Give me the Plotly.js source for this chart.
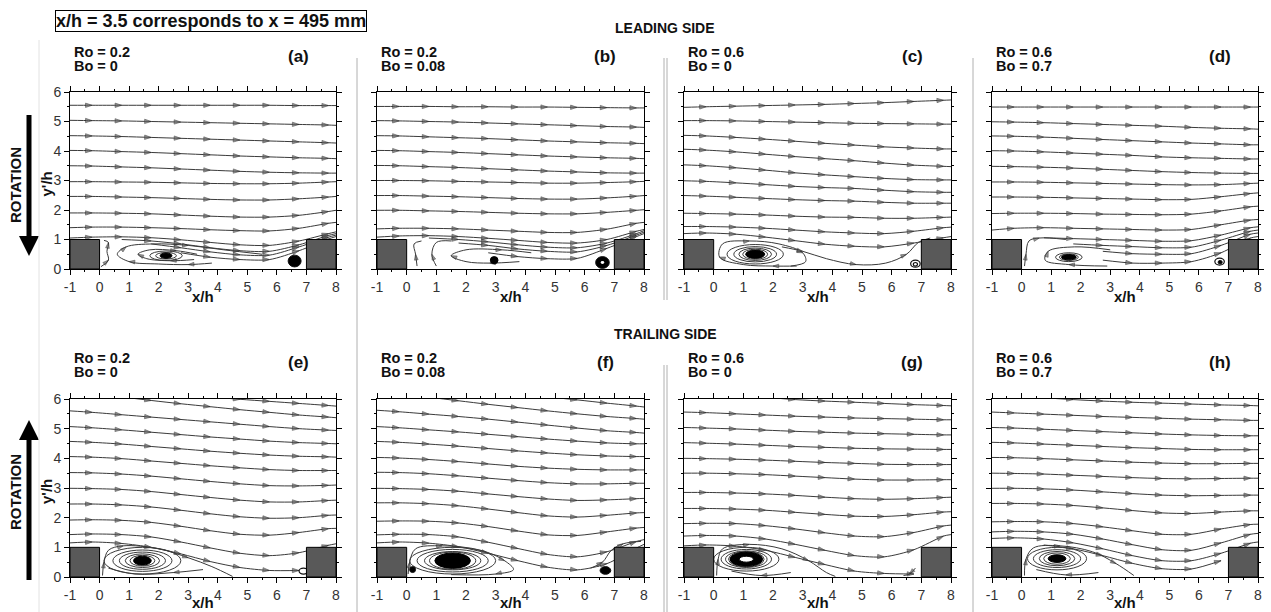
<!DOCTYPE html>
<html><head><meta charset="utf-8">
<script src="https://cdn.plot.ly/plotly-3.0.1.min.js"></script>
<style>html,body{margin:0;padding:0;background:#fff}#chart{width:1271px;height:612px}</style>
</head><body><div id="chart"></div>
<script>
// ---------------- DATA ----------------
const XS = [-1,-0.25,0.75,1.75,2.75,3.75,4.75,5.75,6.75,7.75,8];
const X_TICKS = [-1,0,1,2,3,4,5,6,7,8];
const Y_TICKS = [0,1,2,3,4,5,6];
const PANEL_TAGS = ['(a)','(b)','(c)','(d)','(e)','(f)','(g)','(h)'];
const RO = ['0.2','0.2','0.6','0.6','0.2','0.2','0.6','0.6'];
const BO = ['0','0.08','0','0.7','0','0.08','0','0.7'];
const RIB_X = [[-1,0],[7,8]];
const RIB_H = 1;

// streamline y'/h values at XS, per panel
const LINES_A = [
 [5.55,5.55,5.55,5.55,5.55,5.55,5.55,5.55,5.54,5.54,5.54],
 [5.04,5.03,5.02,5.00,4.98,4.96,4.94,4.92,4.90,4.88,4.87],
 [4.52,4.51,4.49,4.46,4.43,4.40,4.37,4.34,4.31,4.28,4.27],
 [4.02,4.01,3.98,3.95,3.91,3.87,3.83,3.80,3.77,3.75,3.74],
 [3.50,3.49,3.46,3.43,3.39,3.35,3.31,3.28,3.26,3.25,3.25],
 [2.96,2.96,2.95,2.94,2.92,2.90,2.89,2.89,2.91,2.95,2.96],
 [2.46,2.46,2.44,2.42,2.39,2.36,2.34,2.34,2.38,2.44,2.46],
 [1.90,1.90,1.89,1.87,1.83,1.79,1.76,1.76,1.82,1.95,1.99],
 [1.40,1.42,1.42,1.40,1.37,1.33,1.30,1.29,1.38,1.55,1.58],
 [1.05,1.08,1.09,1.06,0.99,0.90,0.82,0.80,0.95,1.20,1.26],
 [null,null,1.00,0.95,0.85,0.72,0.62,0.60,0.82,1.14,1.20],
 [null,null,null,0.85,0.72,0.58,0.48,0.47,0.75,1.08,1.15],
 [null,null,null,null,0.55,0.40,0.32,0.32,0.62,1.02,1.10]
];
const LINES_B = [
 [5.51,5.51,5.51,5.50,5.50,5.49,5.49,5.48,5.47,5.46,5.46],
 [5.03,5.02,5.00,4.98,4.95,4.92,4.89,4.86,4.83,4.81,4.80],
 [4.52,4.51,4.48,4.45,4.42,4.38,4.34,4.31,4.28,4.26,4.25],
 [4.02,4.01,3.98,3.95,3.91,3.87,3.83,3.80,3.77,3.75,3.74],
 [3.51,3.50,3.47,3.44,3.40,3.36,3.32,3.29,3.26,3.25,3.25],
 [3.00,3.00,2.99,2.97,2.95,2.93,2.91,2.91,2.93,2.96,2.97],
 [2.49,2.49,2.47,2.45,2.42,2.39,2.37,2.37,2.41,2.47,2.49],
 [1.99,1.99,1.97,1.95,1.92,1.89,1.87,1.87,1.92,1.99,2.01],
 [1.36,1.38,1.38,1.36,1.32,1.28,1.24,1.24,1.35,1.55,1.58],
 [1.08,1.12,1.13,1.10,1.04,0.97,0.90,0.88,1.00,1.28,1.34],
 [null,null,1.05,1.00,0.92,0.82,0.74,0.72,0.88,1.20,1.30],
 [null,null,null,0.88,0.80,0.68,0.60,0.58,0.80,1.15,1.25],
 [null,null,null,null,0.55,0.42,0.35,0.36,0.70,1.10,1.20]
];
const LINES_C = [
 [5.48,5.50,5.52,5.54,5.56,5.58,5.61,5.64,5.68,5.72,5.73],
 [5.03,5.03,5.02,5.00,4.98,4.96,4.94,4.93,4.92,4.91,4.91],
 [4.53,4.51,4.46,4.40,4.33,4.26,4.20,4.14,4.10,4.07,4.07],
 [4.06,4.03,3.97,3.89,3.81,3.74,3.67,3.59,3.52,3.48,3.47],
 [3.53,3.50,3.43,3.35,3.26,3.19,3.13,3.07,3.03,3.02,3.02],
 [2.99,2.97,2.92,2.86,2.80,2.76,2.73,2.67,2.62,2.60,2.60],
 [2.49,2.47,2.43,2.39,2.35,2.32,2.30,2.26,2.23,2.23,2.23],
 [1.89,1.88,1.86,1.83,1.79,1.76,1.75,1.72,1.72,1.75,1.76],
 [1.44,1.44,1.42,1.38,1.32,1.26,1.22,1.20,1.28,1.40,1.42],
 [1.20,1.22,1.18,1.08,0.96,0.84,0.77,0.75,0.88,1.06,1.10]
];
const LINES_D = [
 [5.49,5.49,5.49,5.49,5.49,5.49,5.49,5.49,5.49,5.49,5.49],
 [4.99,4.98,4.96,4.93,4.90,4.87,4.84,4.80,4.77,4.75,4.74],
 [4.51,4.50,4.47,4.43,4.39,4.35,4.31,4.27,4.24,4.21,4.21],
 [4.01,4.00,3.97,3.93,3.89,3.85,3.80,3.77,3.75,3.73,3.73],
 [3.48,3.47,3.45,3.42,3.38,3.34,3.30,3.27,3.25,3.24,3.24],
 [2.95,2.95,2.94,2.92,2.90,2.88,2.86,2.85,2.86,2.90,2.91],
 [2.44,2.44,2.43,2.41,2.39,2.37,2.35,2.36,2.45,2.56,2.58],
 [1.88,1.89,1.89,1.88,1.86,1.85,1.84,1.86,1.97,2.11,2.13],
 [1.32,1.38,1.40,1.38,1.36,1.34,1.32,1.34,1.50,1.66,1.68],
 [null,null,1.06,1.03,1.00,0.97,0.94,0.96,1.15,1.40,1.43],
 [null,null,null,0.85,0.80,0.76,0.72,0.74,0.98,1.28,1.32],
 [null,null,null,null,0.60,0.52,0.50,0.52,0.80,1.18,1.22],
 [null,null,null,null,0.30,0.20,0.20,0.25,0.55,1.05,1.10]
];
const LINES_E = [
 [6.60,6.50,6.38,6.26,6.16,6.07,5.99,5.92,5.85,5.78,5.76],
 [6.30,6.20,6.07,5.95,5.84,5.74,5.64,5.55,5.46,5.39,5.37],
 [5.60,5.55,5.47,5.39,5.31,5.23,5.15,5.07,5.00,4.95,4.94],
 [5.07,5.03,4.96,4.88,4.80,4.72,4.65,4.58,4.53,4.50,4.49],
 [4.57,4.54,4.48,4.40,4.32,4.24,4.17,4.11,4.07,4.05,4.04],
 [4.06,4.04,3.99,3.91,3.83,3.75,3.68,3.62,3.59,3.59,3.59],
 [3.52,3.51,3.47,3.40,3.31,3.22,3.14,3.08,3.07,3.09,3.10],
 [2.99,2.98,2.95,2.88,2.78,2.68,2.59,2.53,2.53,2.58,2.59],
 [2.46,2.46,2.43,2.36,2.25,2.13,2.03,1.98,2.00,2.08,2.09],
 [1.92,1.93,1.91,1.84,1.71,1.56,1.44,1.41,1.50,1.63,1.64],
 [1.43,1.45,1.43,1.35,1.18,0.98,0.80,0.72,0.82,1.07,1.12],
 [1.15,1.18,1.13,1.00,0.78,0.52,0.32,0.22,0.22,null,null]
];
const LINES_F = [
 [6.90,6.75,6.60,6.45,6.30,6.18,6.07,5.97,5.86,5.76,5.73],
 [6.25,6.18,6.06,5.94,5.82,5.71,5.60,5.50,5.41,5.34,5.32],
 [5.62,5.57,5.49,5.41,5.32,5.22,5.12,5.02,4.93,4.87,4.85],
 [5.07,5.03,4.96,4.89,4.81,4.73,4.65,4.58,4.52,4.49,4.49],
 [4.57,4.54,4.48,4.41,4.33,4.25,4.18,4.12,4.08,4.06,4.06],
 [4.03,4.01,3.96,3.89,3.81,3.73,3.67,3.63,3.61,3.61,3.61],
 [3.53,3.52,3.48,3.41,3.33,3.25,3.18,3.14,3.14,3.16,3.16],
 [2.99,2.98,2.95,2.89,2.80,2.71,2.63,2.58,2.60,2.64,2.65],
 [2.50,2.50,2.47,2.40,2.29,2.17,2.06,2.02,2.08,2.16,2.17],
 [1.88,1.89,1.88,1.82,1.70,1.55,1.42,1.40,1.52,1.65,1.67],
 [1.42,1.44,1.43,1.35,1.17,0.96,0.76,0.68,0.85,1.20,1.26],
 [1.15,1.18,1.14,1.02,0.80,0.55,0.33,0.24,0.45,0.98,1.10]
];
const LINES_G = [
 [6.35,6.28,6.17,6.06,5.98,5.93,5.89,5.85,5.81,5.78,5.77],
 [5.56,5.54,5.50,5.46,5.42,5.39,5.36,5.34,5.32,5.30,5.30],
 [5.04,5.02,4.99,4.95,4.91,4.88,4.85,4.83,4.81,4.79,4.79],
 [4.53,4.51,4.48,4.44,4.40,4.37,4.34,4.32,4.31,4.30,4.30],
 [4.00,3.99,3.97,3.94,3.90,3.86,3.83,3.80,3.79,3.79,3.79],
 [3.50,3.50,3.48,3.45,3.40,3.35,3.30,3.27,3.27,3.28,3.28],
 [2.85,2.85,2.83,2.80,2.75,2.69,2.64,2.62,2.64,2.68,2.69],
 [2.31,2.31,2.29,2.25,2.18,2.11,2.05,2.04,2.10,2.19,2.20],
 [1.80,1.81,1.80,1.73,1.62,1.49,1.38,1.36,1.50,1.72,1.75],
 [1.38,1.40,1.38,1.28,1.10,0.90,0.72,0.68,0.92,1.38,1.43],
 [1.05,1.08,1.04,0.90,0.66,0.42,0.20,0.12,0.10,null,null]
];
const LINES_H = [
 [6.30,6.20,6.05,5.98,5.93,5.89,5.86,5.83,5.80,5.78,5.77],
 [5.56,5.53,5.49,5.45,5.41,5.38,5.35,5.32,5.30,5.28,5.28],
 [5.04,5.02,4.98,4.94,4.90,4.86,4.82,4.79,4.77,4.76,4.76],
 [4.54,4.52,4.48,4.44,4.40,4.36,4.33,4.30,4.29,4.29,4.29],
 [4.03,4.02,3.99,3.95,3.91,3.87,3.84,3.82,3.82,3.83,3.83],
 [3.50,3.49,3.47,3.43,3.39,3.35,3.32,3.31,3.32,3.33,3.33],
 [2.99,2.99,2.97,2.93,2.87,2.81,2.76,2.74,2.75,2.76,2.76],
 [2.48,2.48,2.46,2.41,2.33,2.24,2.16,2.14,2.19,2.23,2.23],
 [1.86,1.87,1.86,1.80,1.69,1.56,1.44,1.44,1.62,1.77,1.78],
 [1.52,1.54,1.52,1.44,1.28,1.09,0.92,0.90,1.15,1.44,1.47],
 [1.30,1.32,1.28,1.15,0.95,0.72,0.55,0.55,0.80,1.14,1.18],
 [null,null,1.08,0.95,0.72,0.46,0.28,0.27,0.55,null,null]
];

// recirculation paths [x, y'] per panel
const RECIRC_A = [
 [[3.8,0.2],[3.0,0.15],[2.0,0.17],[1.0,0.25],[0.6,0.5],[0.9,0.75],[1.8,0.85],[3.0,0.8],[4.2,0.65],[5.5,0.5]],
 [[3.2,0.32],[2.4,0.28],[1.6,0.35],[1.3,0.5],[1.7,0.65],[2.6,0.62],[3.3,0.5]],
 [[0.05,0.08],[0.3,0.3],[0.25,0.6],[0.3,0.9],[0.15,0.97]]
];
const RECIRC_B = [
 [[0.35,0.1],[0.3,0.5],[0.25,0.85],[0.5,0.95]],
 [[1.0,0.1],[0.85,0.5],[1.0,0.9],[1.5,0.95]],
 [[3.8,0.25],[2.8,0.2],[2.0,0.25],[1.5,0.45],[2.0,0.65],[3.2,0.65],[4.2,0.55]]
];
const RECIRC_C = [
 [[2.8,0.1],[2.0,0.1],[1.0,0.15],[0.2,0.4],[0.3,0.85],[1.2,0.95],[2.2,0.85],[3.0,0.55],[3.1,0.25],[2.6,0.1]],
 [[2.3,0.75],[3.0,0.6],[3.8,0.35],[4.8,0.15],[5.8,0.2],[6.5,0.5],[6.9,0.9],[7.3,1.05]]
];
const RECIRC_D = [
 [[0.1,0.1],[0.15,0.5],[0.25,0.95],[0.6,1.05],[1.5,1.0]],
 [[2.9,0.1],[1.6,0.15],[0.8,0.3],[0.9,0.6],[1.8,0.75],[3.0,0.65]]
];
const RECIRC_E = [
 [[0.1,0.05],[0.15,0.5],[0.3,0.9],[0.8,1.05],[2.0,0.95],[3.0,0.65],[3.8,0.35],[4.5,0.02]],
 [[3.5,0.25],[2.5,0.15],[1.2,0.1],[0.3,0.3]]
];
const RECIRC_F = [
 [[0.05,0.1],[0.1,0.5],[0.3,0.95],[1.2,1.05],[2.5,0.9],[3.3,0.55],[3.6,0.25],[3.0,0.1],[1.5,0.08]],
 [[6.2,0.3],[6.6,0.5],[6.9,0.9],[7.3,1.12],[7.9,1.2]]
];
const RECIRC_G = [
 [[0.1,0.05],[0.15,0.6],[0.3,0.95],[1.2,1.1],[2.3,0.95],[3.2,0.55],[3.8,0.15],[4.1,0.02]],
 [[2.6,0.15],[1.6,0.05],[0.6,0.2]],
 [[6.8,0.3],[6.6,0.1],[6.4,0.05]]
];
const RECIRC_H = [
 [[0.1,0.05],[0.15,0.6],[0.4,0.98],[1.3,1.05],[2.4,0.85],[3.2,0.45],[3.8,0.05]],
 [[2.6,0.15],[1.5,0.07],[0.5,0.25]]
];

// vortices: centre, ring radii, filled core radii, white hole radii
const VORTEX_CENTER = [[2.25,0.45],[2.95,0.3],[1.4,0.5],[1.6,0.4],[1.45,0.55],[1.55,0.55],[1.1,0.6],[1.2,0.62]];
const VORTEX_RINGS = [
 [[0.55,0.16],[0.35,0.11]],
 [],
 [[0.95,0.33],[0.72,0.26],[0.55,0.21],[0.42,0.17]],
 [[0.45,0.15],[0.32,0.11]],
 [[1.3,0.45],[1.0,0.36],[0.78,0.29],[0.58,0.23],[0.42,0.18]],
 [[1.45,0.45],[1.2,0.38],[0.95,0.31],[0.78,0.29]],
 [[1.1,0.4],[0.85,0.33],[0.7,0.28],[0.6,0.26]],
 [[1.0,0.38],[0.8,0.3],[0.6,0.24],[0.45,0.19]]
];
const VORTEX_CORE = [[0.2,0.09],[0.13,0.12],[0.32,0.14],[0.25,0.09],[0.3,0.15],[0.6,0.26],[0.55,0.24],[0.3,0.13]];
const VORTEX_HOLE = [null,null,null,null,null,null,[0.24,0.1],null];
// small corner eddies / blobs [cx, cy, rx, ry, filled]
const BLOBS = [
 [[6.6,0.27,0.22,0.2,1]],
 [[6.6,0.22,0.23,0.2,1]],
 [[6.8,0.18,0.16,0.12,0],[6.8,0.16,0.07,0.06,0]],
 [[6.7,0.25,0.16,0.12,0],[6.72,0.23,0.07,0.06,1]],
 [[6.9,0.2,0.15,0.1,0]],
 [[0.2,0.25,0.1,0.1,1],[6.7,0.22,0.18,0.13,1]],
 [],
 []
];

const ALL_LINES = [LINES_A,LINES_B,LINES_C,LINES_D,LINES_E,LINES_F,LINES_G,LINES_H];
const ALL_RECIRC = [RECIRC_A,RECIRC_B,RECIRC_C,RECIRC_D,RECIRC_E,RECIRC_F,RECIRC_G,RECIRC_H];

// ---------------- LAYOUT ----------------
const W = 1271, H = 612;
const COL_PX = [[70,336],[377,644],[684,951],[992,1258]];
const ROW_PX = [[92,269],[399,577]];
const px = x => x / W;
const py = y => 1 - y / H;
const FONT = 'Arial, "Liberation Sans", sans-serif';
const LINE_COLOR = '#3a3a3a';
const ARROW_COLOR = '#666';

const traces = [];
const shapes = [];
const annotations = [];
const layout = {
  width: W, height: H, margin: {l:0,r:0,t:0,b:0},
  paper_bgcolor: '#fff', plot_bgcolor: '#fff', showlegend: false,
  font: {family: FONT, color: '#222'}
};

for (let p = 0; p < 8; p++) {
  const col = p % 4, row = Math.floor(p / 4);
  const sfx = p === 0 ? '' : String(p + 1);
  const xa = 'x' + sfx, ya = 'y' + sfx;
  const [L, R] = COL_PX[col];
  const [T, B] = ROW_PX[row];
  layout['xaxis' + sfx] = {
    domain: [px(L), px(R)], anchor: ya, range: [-1, 8], tickvals: X_TICKS, ticktext: X_TICKS.map(String),
    ticks: 'outside', ticklen: 5, tickcolor: '#000', showline: true, linecolor: '#000',
    linewidth: 1, mirror: 'allticks', showgrid: false, zeroline: false,
    tickfont: {family: FONT, size: 14, color: '#333'},
    minor: {dtick: 0.5, tick0: -1, ticks: 'outside', ticklen: 2, tickcolor: '#000', showgrid: false},
    fixedrange: true
  };
  layout['yaxis' + sfx] = {
    domain: [py(B), py(T)], anchor: xa, range: [0, 6], tickvals: Y_TICKS, ticktext: Y_TICKS.map(String),
    ticks: 'outside', ticklen: 5, tickcolor: '#000', showline: true, linecolor: '#000',
    linewidth: 1, mirror: 'allticks', showgrid: false, zeroline: false,
    showticklabels: col === 0,
    tickfont: {family: FONT, size: 14, color: '#333'},
    minor: {dtick: 0.5, tick0: 0, ticks: 'outside', ticklen: 2, tickcolor: '#000', showgrid: false},
    fixedrange: true
  };

  // streamlines
  ALL_LINES[p].forEach(ys => {
    const sizes = ys.map((v, i) => {
      if (v === null || i === 0 || i === ys.length - 1) return 0;
      if (ys[i - 1] === null) return 0;
      if (v > 6) return 0;
      return 7;
    });
    traces.push({
      type: 'scatter', mode: 'lines+markers', x: XS, y: ys, xaxis: xa, yaxis: ya,
      line: {color: LINE_COLOR, width: 1, shape: 'spline', smoothing: 0.8},
      marker: {symbol: 'arrow', angleref: 'previous', size: sizes, color: ARROW_COLOR,
               line: {width: 0.7, color: '#222'}},
      connectgaps: false, hoverinfo: 'skip', cliponaxis: true
    });
  });

  // recirculation paths
  ALL_RECIRC[p].forEach(path => {
    const x = path.map(q => q[0]), y = path.map(q => q[1]);
    const sizes = path.map((q, i) => (i % 2 === 1 && i < path.length - 1) ? 6 : 0);
    traces.push({
      type: 'scatter', mode: 'lines+markers', x, y, xaxis: xa, yaxis: ya,
      line: {color: LINE_COLOR, width: 1, shape: 'spline', smoothing: 1},
      marker: {symbol: 'arrow', angleref: 'previous', size: sizes, color: ARROW_COLOR,
               line: {width: 0.7, color: '#222'}},
      hoverinfo: 'skip'
    });
  });

  // vortex rings and core
  const [cx, cy] = VORTEX_CENTER[p];
  VORTEX_RINGS[p].forEach(([rx, ry]) => {
    shapes.push({type: 'circle', xref: xa, yref: ya, x0: cx - rx, x1: cx + rx, y0: cy - ry, y1: cy + ry,
                 line: {color: LINE_COLOR, width: 1}, layer: 'above'});
  });
  const [crx, cry] = VORTEX_CORE[p];
  shapes.push({type: 'circle', xref: xa, yref: ya, x0: cx - crx, x1: cx + crx, y0: cy - cry, y1: cy + cry,
               fillcolor: '#000', line: {color: '#000', width: 1}, layer: 'above'});
  if (VORTEX_HOLE[p]) {
    const [hrx, hry] = VORTEX_HOLE[p];
    shapes.push({type: 'circle', xref: xa, yref: ya, x0: cx - hrx, x1: cx + hrx, y0: cy - hry, y1: cy + hry,
                 fillcolor: '#fff', line: {color: '#000', width: 1}, layer: 'above'});
  }
  BLOBS[p].forEach(([bx, by, rx, ry, filled]) => {
    shapes.push({type: 'circle', xref: xa, yref: ya, x0: bx - rx, x1: bx + rx, y0: by - ry, y1: by + ry,
                 fillcolor: filled ? '#000' : 'rgba(0,0,0,0)', line: {color: '#111', width: filled ? 1 : 1.2}, layer: 'above'});
  });
  if (p === 1) { // white centre of the ring-shaped eddy in (b)
    const b = BLOBS[1][0];
    shapes.push({type: 'circle', xref: xa, yref: ya, x0: b[0] - 0.06, x1: b[0] + 0.06, y0: b[1] - 0.05, y1: b[1] + 0.05,
                 fillcolor: '#fff', line: {width: 0}, layer: 'above'});
  }

  // ribs
  RIB_X.forEach(([a, b]) => {
    shapes.push({type: 'rect', xref: xa, yref: ya, x0: a, x1: b, y0: 0, y1: RIB_H,
                 fillcolor: '#595959', line: {color: '#000', width: 1}, layer: 'above'});
  });

  // labels
  const rowOff = row === 0 ? 0 : 306;
  annotations.push({xref: 'paper', yref: 'paper', x: px(L + 2), y: py(52 + rowOff), xanchor: 'left', yanchor: 'middle',
    text: '<b>Ro = ' + RO[p] + '</b>', showarrow: false, font: {family: FONT, size: 14.5, color: '#111'}});
  annotations.push({xref: 'paper', yref: 'paper', x: px(L + 2), y: py(66 + rowOff), xanchor: 'left', yanchor: 'middle',
    text: '<b>Bo = ' + BO[p] + '</b>', showarrow: false, font: {family: FONT, size: 14.5, color: '#111'}});
  annotations.push({xref: 'paper', yref: 'paper', x: px(L + 228), y: py(56 + rowOff), xanchor: 'center', yanchor: 'middle',
    text: '<b>' + PANEL_TAGS[p] + '</b>', showarrow: false, font: {family: FONT, size: 17, color: '#111'}});
  annotations.push({xref: 'paper', yref: 'paper', x: px((L + R) / 2), y: py(row === 0 ? 296 : 602), xanchor: 'center', yanchor: 'middle',
    text: '<b>x/h</b>', showarrow: false, font: {family: FONT, size: 15, color: '#111'}});
  if (col === 0) {
    annotations.push({xref: 'paper', yref: 'paper', x: px(46), y: py((T + B) / 2 + 4), xanchor: 'center', yanchor: 'middle',
      text: "<b>y'/h</b>", textangle: -90, showarrow: false, font: {family: FONT, size: 15, color: '#111'}});
    annotations.push({xref: 'paper', yref: 'paper', x: px(15), y: py(row === 0 ? 185 : 492), xanchor: 'center', yanchor: 'middle',
      text: '<b>ROTATION</b>', textangle: -90, showarrow: false, font: {family: FONT, size: 15, color: '#111'}});
  }
}

// header texts
annotations.push({xref: 'paper', yref: 'paper', x: px(211), y: py(21), xanchor: 'center', yanchor: 'middle',
  text: '<b>x/h = 3.5 corresponds to x = 495 mm</b>', showarrow: false,
  bordercolor: '#000', borderwidth: 1, borderpad: 0, font: {family: FONT, size: 18, color: '#111'}});
annotations.push({xref: 'paper', yref: 'paper', x: px(665), y: py(28), xanchor: 'center', yanchor: 'middle',
  text: '<b>LEADING SIDE</b>', showarrow: false, font: {family: FONT, size: 14, color: '#111'}});
annotations.push({xref: 'paper', yref: 'paper', x: px(665), y: py(334), xanchor: 'center', yanchor: 'middle',
  text: '<b>TRAILING SIDE</b>', showarrow: false, font: {family: FONT, size: 14, color: '#111'}});

// rotation arrows
const vline = (x, y0, y1, color, width) => ({type: 'line', xref: 'paper', yref: 'paper',
  x0: px(x), x1: px(x), y0: py(y0), y1: py(y1), line: {color, width}});
shapes.push(vline(29, 115, 240, '#000', 5));
shapes.push({type: 'path', xref: 'paper', yref: 'paper', fillcolor: '#000', line: {width: 0},
  path: `M ${px(19)} ${py(236)} L ${px(39)} ${py(236)} L ${px(29)} ${py(256)} Z`});
shapes.push(vline(29, 580, 438, '#000', 5));
shapes.push({type: 'path', xref: 'paper', yref: 'paper', fillcolor: '#000', line: {width: 0},
  path: `M ${px(19)} ${py(440)} L ${px(39)} ${py(440)} L ${px(29)} ${py(420)} Z`});

// separators
shapes.push(vline(39, 40, 612, '#e2e2e2', 1));
shapes.push(vline(357, 58, 612, '#b0b0b0', 1));
shapes.push(vline(664, 58, 300, '#b0b0b0', 1));
shapes.push(vline(667, 58, 300, '#b0b0b0', 1));
shapes.push(vline(664, 365, 612, '#b0b0b0', 1));
shapes.push(vline(667, 365, 612, '#b0b0b0', 1));
shapes.push(vline(973, 58, 612, '#b0b0b0', 1));

layout.shapes = shapes;
layout.annotations = annotations;
Plotly.newPlot('chart', traces, layout, {displayModeBar: false, staticPlot: true});
</script>
</body></html>
